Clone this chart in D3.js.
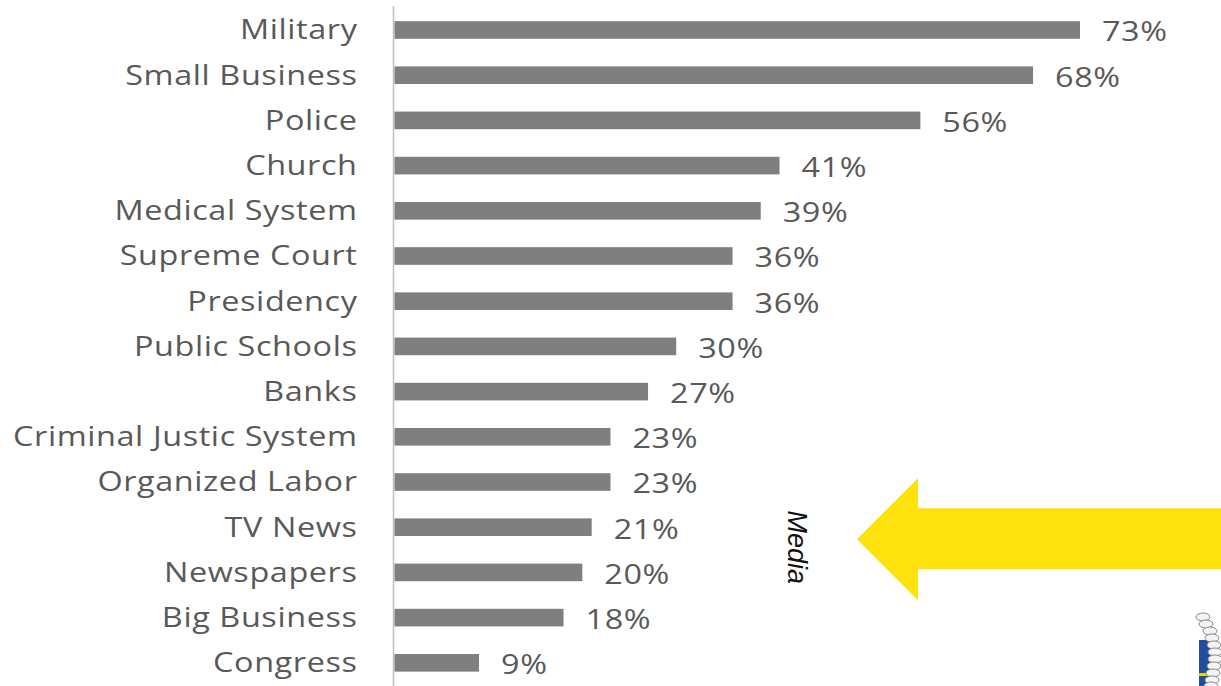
<!DOCTYPE html>
<html><head><meta charset="utf-8">
<script src="https://cdn.jsdelivr.net/npm/d3@7"></script>
<style>body{margin:0;background:#fff;} svg{display:block;}</style>
</head><body>
<svg id="c" width="1221" height="686"></svg>
<script>
const categories = ["Military","Small Business","Police","Church","Medical System","Supreme Court","Presidency","Public Schools","Banks","Criminal Justic System","Organized Labor","TV News","Newspapers","Big Business","Congress"];
const values = [73,68,56,41,39,36,36,30,27,23,23,21,20,18,9];
const valueLabels = values.map(v => v + "%");
const annotation = "Media";

const svg = d3.select("#c");
const x0 = 394.5;
const x = d3.scaleLinear().domain([0, 73]).range([x0, 1080]);
const y = d3.scaleBand().domain(categories).range([7.4, 685.4]).paddingInner(0.61).paddingOuter(0.305);

svg.append("line").attr("x1", 393.5).attr("x2", 393.5).attr("y1", 6).attr("y2", 686)
  .attr("stroke", "#bfbfbf").attr("stroke-width", 1.5);

svg.selectAll("rect.bar").data(values).join("rect").attr("class","bar")
  .attr("x", x0).attr("y", (d,i) => y(categories[i]))
  .attr("width", d => x(d) - x0).attr("height", y.bandwidth())
  .attr("fill", "#7f7f7f");

const font = "'Open Sans', 'DejaVu Sans', sans-serif";
const sx = 1.2;
svg.selectAll("text.cat").data(categories).join("text").attr("class","cat")
  .attr("transform", d => `translate(357.5,${y(d) + y.bandwidth()/2}) scale(${sx},1)`)
  .attr("dy", "0.35em").attr("text-anchor", "end")
  .attr("font-family", font).attr("font-size", 27).attr("letter-spacing", 0.5).attr("fill", "#595959")
  .text(d => d);

svg.selectAll("text.val").data(values).join("text").attr("class","val")
  .attr("transform", (d,i) => `translate(${x(d) + 22},${y(categories[i]) + y.bandwidth()/2 + 2}) scale(${sx},1)`)
  .attr("dy", "0.35em")
  .attr("font-family", font).attr("font-size", 27).attr("letter-spacing", 0.5).attr("fill", "#595959")
  .text((d,i) => valueLabels[i]);

// Arrow
const ay = y("TV News") + y.bandwidth()/2 + 12;
svg.append("path")
  .attr("d", `M857,${ay} L918,${ay-61} L918,${ay-31} L1221,${ay-31} L1221,${ay+30} L918,${ay+30} L918,${ay+61} Z`)
  .attr("fill", "#ffe10c");

svg.append("text").attr("transform", `translate(797,${ay+8}) rotate(90)`)
  .attr("text-anchor", "middle").attr("dy", "0.35em")
  .attr("font-family", "'Liberation Sans', Arial, sans-serif").attr("font-style", "italic")
  .attr("font-size", 27).attr("fill", "#111").text(annotation);

// logo approximation
const g = svg.append("g");
g.append("rect").attr("x", 1199).attr("y", 640).attr("width", 14).attr("height", 46).attr("fill", "#1f4e9c");
g.append("rect").attr("x", 1199).attr("y", 673).attr("width", 14).attr("height", 3).attr("fill", "#f2d400");
[[1203,617],[1206,624],[1210,631],[1212,638],[1214,645],[1215,652],[1215,659],[1214,666],[1213,673],[1212,680],[1211,686]].forEach(([cx,cy]) => {
  g.append("ellipse").attr("cx", cx).attr("cy", cy).attr("rx", 7).attr("ry", 4)
   .attr("fill", "#f4f4f4").attr("stroke", "#8a8a8a").attr("stroke-width", 1);
});
</script>
</body></html>
